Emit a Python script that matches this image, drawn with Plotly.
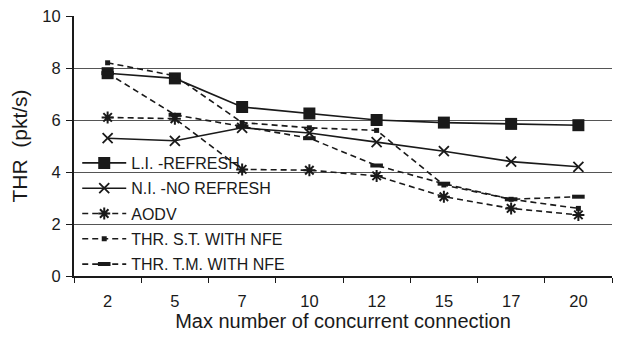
import plotly.graph_objects as go

categories = ["2", "5", "7", "10", "12", "15", "17", "20"]
li_refresh = [7.8, 7.6, 6.5, 6.25, 6.0, 5.9, 5.85, 5.8]
ni_no_refresh = [5.3, 5.2, 5.7, 5.5, 5.15, 4.8, 4.4, 4.2]
aodv = [6.1, 6.05, 4.1, 4.07, 3.85, 3.05, 2.6, 2.35]
thr_st_nfe = [8.2, 7.7, 5.9, 5.7, 5.6, 3.5, 2.95, 2.6]
thr_tm_nfe = [7.8, 6.2, 5.75, 5.3, 4.25, 3.55, 2.95, 3.05]

FONT = "Liberation Sans, Arial, sans-serif"
INK = "#1a1a1a"

fig = go.Figure()

fig.add_trace(go.Scatter(
    x=categories, y=li_refresh, name="L.I. -REFRESH", legendgroup="a",
    mode="lines+markers",
    line=dict(color=INK, width=1.6),
    marker=dict(symbol="square", size=12, color=INK),
))
fig.add_trace(go.Scatter(
    x=categories, y=ni_no_refresh, name="N.I. -NO REFRESH", legendgroup="b",
    mode="lines+markers",
    line=dict(color=INK, width=1.6),
    marker=dict(symbol="x-thin", size=10, line=dict(color=INK, width=1.8)),
))
fig.add_trace(go.Scatter(
    x=categories, y=aodv, name="AODV", legendgroup="c",
    mode="lines+markers",
    line=dict(color=INK, width=1.6, dash="6px,4px"),
    marker=dict(symbol="asterisk", size=10, line=dict(color=INK, width=2)),
))
fig.add_trace(go.Scatter(
    x=categories, y=thr_st_nfe, name="THR. S.T. WITH NFE", legendgroup="d",
    mode="lines+markers",
    line=dict(color=INK, width=1.6, dash="6px,4px"),
    marker=dict(symbol="square", size=5, color=INK),
))
fig.add_trace(go.Scatter(
    x=categories, y=thr_tm_nfe, name="THR. T.M. WITH NFE", legendgroup="e",
    mode="lines+markers",
    line=dict(color=INK, width=1.6, dash="6px,4px"),
    marker=dict(symbol="line-ew", size=9, line=dict(color=INK, width=4)),
))

fig.update_layout(
    width=618, height=347,
    margin=dict(l=74, r=6, t=16, b=71),
    paper_bgcolor="white", plot_bgcolor="white",
    font=dict(family=FONT, color=INK, size=16),
    showlegend=True,
    legend=dict(
        x=0.006, y=0.50, xanchor="left", yanchor="top",
        bgcolor="rgba(0,0,0,0)", borderwidth=0,
        font=dict(family=FONT, size=16, color=INK),
        tracegroupgap=1.5, itemwidth=44,
    ),
    xaxis=dict(
        type="category", range=[-0.5, 7.5],
        tickson="boundaries", ticks="outside", ticklen=5, tickcolor=INK, tickwidth=1,
        ticklabelstandoff=9,
        showline=True, linecolor=INK, linewidth=2,
        showgrid=False, zeroline=False,
        tickfont=dict(size=16.5, color=INK),
        title=dict(text="Max number of concurrent connection", font=dict(size=20, color=INK), standoff=5),
    ),
    yaxis=dict(
        range=[0, 10], dtick=2, tick0=0,
        ticks="outside", ticklen=6, tickcolor=INK, tickwidth=1,
        ticklabelstandoff=2,
        showline=True, linecolor=INK, linewidth=2,
        showgrid=True, gridcolor="#555555", gridwidth=1.2,
        zeroline=False,
        tickfont=dict(size=16.5, color=INK),
        title=dict(text="THR\u00a0\u00a0(pkt/s)\u00a0\u00a0\u00a0\u00a0\u00a0\u00a0", font=dict(size=21, color=INK), standoff=9),
    ),
)

fig.write_html("out.html", config={"displayModeBar": False},
               post_script="document.body.style.margin='0';")
